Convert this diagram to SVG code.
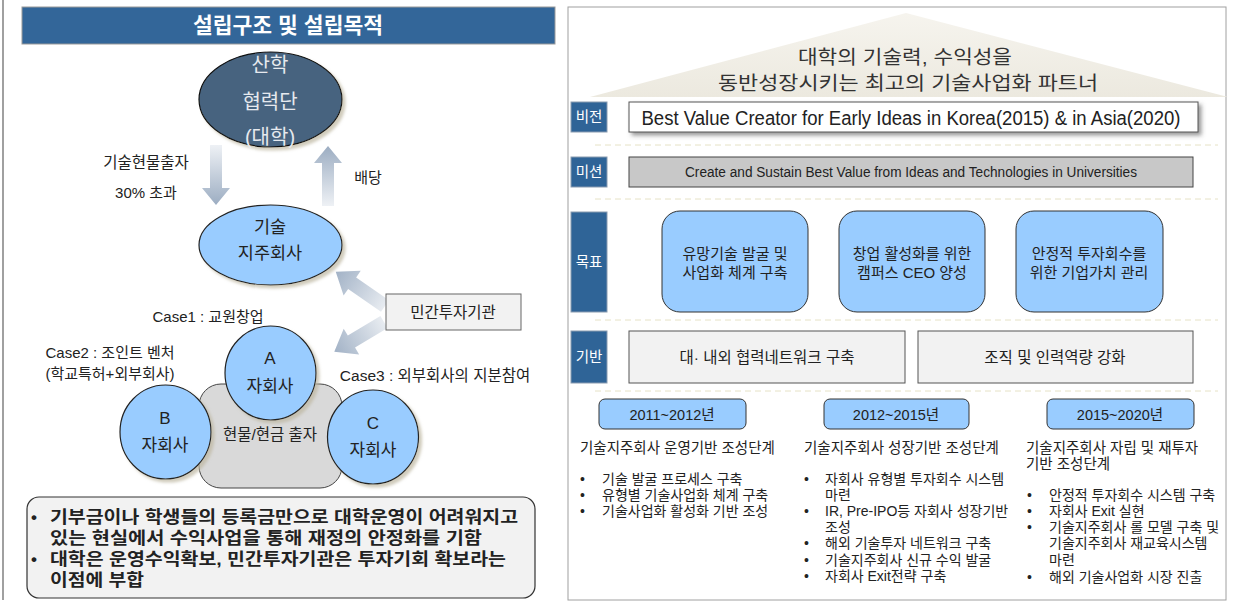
<svg xmlns="http://www.w3.org/2000/svg" width="1239" height="605" viewBox="0 0 1239 605">
<defs>
<style>
.k{font-family:'Liberation Sans','Noto Sans CJK KR',sans-serif;fill:#222}
.lbl{fill:#2F6497;stroke:#8A9BB0;stroke-width:1}
.lbltxt{font-family:'Noto Sans CJK KR',sans-serif;font-size:14.5px;fill:#fff;text-anchor:middle}
.goal{fill:#99CCFF;stroke:#333;stroke-width:1}
.found{fill:#F2F2F2;stroke:#555;stroke-width:1}
.dash{stroke:#E6E2C6;stroke-width:1;stroke-dasharray:6 4}
.c{text-anchor:middle}
.bul{font-size:14px}
.blue{fill:#99CCFF;stroke:#222;stroke-width:1.2}
</style>
<linearGradient id="gDown" x1="0" y1="0" x2="0" y2="1"><stop offset="0" stop-color="#EEF1F5"/><stop offset="1" stop-color="#9CADC2"/></linearGradient>
<linearGradient id="gUp" x1="0" y1="1" x2="0" y2="0"><stop offset="0" stop-color="#EEF1F5"/><stop offset="1" stop-color="#9CADC2"/></linearGradient>
<linearGradient id="gDiag" x1="0" y1="0" x2="1" y2="0"><stop offset="0" stop-color="#E8ECF1"/><stop offset="1" stop-color="#A2B2C6"/></linearGradient>
<linearGradient id="gRoof" x1="0" y1="0" x2="0" y2="1"><stop offset="0" stop-color="#F6F4EE"/><stop offset="1" stop-color="#ECE9DF"/></linearGradient>
<filter id="sh" x="-20%" y="-20%" width="150%" height="150%"><feDropShadow dx="3" dy="3" stdDeviation="1.5" flood-color="#BDB6A0" flood-opacity="0.7"/></filter>
<filter id="sh2" x="-5%" y="-30%" width="110%" height="170%"><feDropShadow dx="3" dy="3" stdDeviation="2" flood-color="#555" flood-opacity="0.6"/></filter>
</defs>
<rect width="1239" height="605" fill="#fff"/>

<!-- LEFT PANEL -->
<line x1="3" y1="0" x2="3" y2="600" stroke="#A0A0A0" stroke-width="2"/>
<g id="title-left">
<rect x="22" y="7" width="533" height="37" fill="#336699" stroke="#999" stroke-width="1"/>
<text x="288" y="33" class="k c" font-size="21.5" font-weight="bold" style="fill:#fff">설립구조 및 설립목적</text>
</g>

<g id="connectors">
<polygon points="210,145 222,145 222,188 230,188 216,205 202,188 210,188" fill="url(#gDown)"/>
<polygon points="328,146 342,163 334,163 334,206 322,206 322,163 314,163" fill="url(#gUp)"/>
<polygon points="0,-7 40,-7 40,-15 60,0 40,15 40,7 0,7" fill="url(#gDiag)" transform="translate(385,306) rotate(214.8)"/>
<polygon points="0,-7 38,-7 38,-15 58,0 38,15 38,7 0,7" fill="url(#gDiag)" transform="translate(384,322) rotate(149)"/>
<text x="146" y="168" class="k c" font-size="15.5">기술현물출자</text>
<text x="146" y="198" class="k c" font-size="15">30% 초과</text>
<text x="368" y="183" class="k c" font-size="15">배당</text>
</g>

<g id="node-sanhak">
<ellipse cx="270.5" cy="99.5" rx="71.5" ry="47.5" fill="#46637F" stroke="#111" stroke-width="1.2" filter="url(#sh)"/>
<text x="270" y="72" class="k c" font-size="20" style="fill:#E6E9EE">산학</text>
<text x="270" y="109" class="k c" font-size="20" style="fill:#E6E9EE">협력단</text>
<text x="270" y="144" class="k c" font-size="20" style="fill:#E6E9EE">(대학)</text>
</g>

<g id="node-holding">
<ellipse cx="270.5" cy="245" rx="71.5" ry="40" class="blue" filter="url(#sh)"/>
<text x="270" y="233" class="k c" font-size="17.5">기술</text>
<text x="270" y="259" class="k c" font-size="17.5">지주회사</text>
</g>

<g id="node-investor">
<rect x="386" y="294" width="135" height="36" fill="#F2F2F2" stroke="#666" stroke-width="1"/>
<text x="453" y="318" class="k c" font-size="15.5">민간투자기관</text>
</g>

<g id="case-labels">
<text x="208" y="322" class="k c" font-size="15">Case1 : 교원창업</text>
<text x="110" y="358" class="k c" font-size="15">Case2 : 조인트 벤처</text>
<text x="110" y="379" class="k c" font-size="15">(학교특허+외부회사)</text>
<text x="435" y="381" class="k c" font-size="15.5">Case3 : 외부회사의 지분참여</text>
</g>

<g id="node-invest-pool">
<rect x="199" y="384" width="143" height="104" rx="22" fill="#D9D9D9" stroke="#444" stroke-width="1"/>
<text x="270" y="440" class="k c" font-size="15.5">현물/현금 출자</text>
</g>

<g id="node-A">
<ellipse cx="270.5" cy="373" rx="45.5" ry="47" class="blue" filter="url(#sh)"/>
<text x="270" y="364" class="k c" font-size="17">A</text>
<text x="270" y="392" class="k c" font-size="17">자회사</text>
</g>
<g id="node-B">
<ellipse cx="165.5" cy="432" rx="45.5" ry="47" class="blue" filter="url(#sh)"/>
<text x="165" y="424" class="k c" font-size="17">B</text>
<text x="165" y="451" class="k c" font-size="17">자회사</text>
</g>
<g id="node-C">
<ellipse cx="373" cy="437" rx="45.5" ry="47" class="blue" filter="url(#sh)"/>
<text x="373" y="429" class="k c" font-size="17">C</text>
<text x="373" y="456" class="k c" font-size="17">자회사</text>
</g>

<g id="note-box">
<rect x="27" y="497" width="508" height="101" rx="12" fill="#F2F2F2" stroke="#333" stroke-width="1.2"/>
<g class="k" font-size="17" font-weight="bold">
<text x="31" y="523">•</text>
<text x="50" y="523" textLength="468" lengthAdjust="spacingAndGlyphs">기부금이나 학생들의 등록금만으로 대학운영이 어려워지고</text>
<text x="50" y="544" textLength="432" lengthAdjust="spacingAndGlyphs">있는 현실에서 수익사업을 통해 재정의 안정화를 기함</text>
<text x="31" y="565">•</text>
<text x="50" y="565" textLength="456" lengthAdjust="spacingAndGlyphs">대학은 운영수익확보, 민간투자기관은 투자기회 확보라는</text>
<text x="50" y="586" textLength="94" lengthAdjust="spacingAndGlyphs">이점에 부합</text>
</g>
</g>

<!-- RIGHT PANEL -->
<g id="right-panel">
<rect x="568" y="7" width="658" height="593" fill="#fff" stroke="#A0A0A0" stroke-width="1"/>
<polygon points="906,13 1228,97 590,97" fill="url(#gRoof)"/>
<text x="905" y="64" class="k c" font-size="19" textLength="214" lengthAdjust="spacingAndGlyphs" style="fill:#333">대학의 기술력, 수익성을</text>
<text x="908" y="90" class="k c" font-size="19" textLength="380" lengthAdjust="spacingAndGlyphs" style="fill:#333">동반성장시키는 최고의 기술사업화 파트너</text>
<line x1="595" y1="145" x2="1218" y2="145" class="dash"/>
<line x1="595" y1="199" x2="1218" y2="199" class="dash"/>
<line x1="595" y1="320" x2="1218" y2="320" class="dash"/>
<line x1="595" y1="391" x2="1218" y2="391" class="dash"/>
</g>

<g id="row-vision">
<rect x="571" y="102" width="36" height="30" class="lbl"/>
<text x="589" y="122" class="lbltxt">비전</text>
<rect x="629" y="102" width="569" height="30" fill="#fff" stroke="#555" stroke-width="1" filter="url(#sh2)"/>
<text x="911" y="125" class="k c" font-size="20" textLength="539" lengthAdjust="spacingAndGlyphs">Best Value Creator for Early Ideas in Korea(2015) &amp; in Asia(2020)</text>
</g>

<g id="row-mission">
<rect x="571" y="157" width="36" height="30" class="lbl"/>
<text x="589" y="177" class="lbltxt">미션</text>
<rect x="629" y="157" width="564" height="30" fill="#C8C8C8" stroke="#444" stroke-width="1"/>
<text x="911" y="177" class="k c" font-size="14" textLength="452" lengthAdjust="spacingAndGlyphs">Create and Sustain Best Value from Ideas and Technologies in Universities</text>
</g>

<g id="row-goal">
<rect x="571" y="212" width="36" height="100" class="lbl"/>
<text x="589" y="267" class="lbltxt">목표</text>
</g>
<g id="goal-1">
<rect x="662" y="211" width="146" height="101" rx="18" class="goal"/>
<text x="735" y="259" class="k c" font-size="15">유망기술 발굴 및</text>
<text x="735" y="278" class="k c" font-size="15">사업화 체계 구축</text>
</g>
<g id="goal-2">
<rect x="839" y="211" width="146" height="101" rx="18" class="goal"/>
<text x="912" y="259" class="k c" font-size="15">창업 활성화를 위한</text>
<text x="912" y="278" class="k c" font-size="15">캠퍼스 CEO 양성</text>
</g>
<g id="goal-3">
<rect x="1016" y="211" width="147" height="101" rx="18" class="goal"/>
<text x="1089" y="259" class="k c" font-size="15">안정적 투자회수를</text>
<text x="1089" y="278" class="k c" font-size="15">위한 기업가치 관리</text>
</g>

<g id="row-base">
<rect x="571" y="331" width="36" height="52" class="lbl"/>
<text x="589" y="362" class="lbltxt">기반</text>
</g>
<g id="base-1">
<rect x="629" y="331" width="276" height="52" class="found"/>
<text x="767" y="363" class="k c" font-size="15.5">대· 내외 협력네트워크 구축</text>
</g>
<g id="base-2">
<rect x="918" y="331" width="275" height="52" class="found"/>
<text x="1055" y="363" class="k c" font-size="15.5">조직 및 인력역량 강화</text>
</g>

<g id="phase-1">
<rect x="599" y="399" width="147" height="30" rx="6" fill="#99CCFF" stroke="#333" stroke-width="1"/>
<text x="672" y="420" class="k c" font-size="14.5">2011~2012년</text>
<text x="580" y="453" class="k" font-size="14.5">기술지주회사 운영기반 조성단계</text>
<g class="k bul">
<text x="580" y="484">•</text><text x="602" y="484">기술 발굴 프로세스 구축</text>
<text x="580" y="500">•</text><text x="602" y="500">유형별 기술사업화 체계 구축</text>
<text x="580" y="516">•</text><text x="602" y="516">기술사업화 활성화 기반 조성</text>
</g>
</g>

<g id="phase-2">
<rect x="824" y="399" width="145" height="30" rx="6" fill="#99CCFF" stroke="#333" stroke-width="1"/>
<text x="896" y="420" class="k c" font-size="14.5">2012~2015년</text>
<text x="804" y="453" class="k" font-size="14.5">기술지주회사 성장기반 조성단계</text>
<g class="k bul">
<text x="804" y="484">•</text><text x="825" y="484">자회사 유형별 투자회수 시스템</text>
<text x="825" y="500">마련</text>
<text x="804" y="516">•</text><text x="825" y="516">IR, Pre-IPO등 자회사 성장기반</text>
<text x="825" y="532">조성</text>
<text x="804" y="548">•</text><text x="825" y="548">해외 기술투자 네트워크 구축</text>
<text x="804" y="565">•</text><text x="825" y="565">기술지주회사 신규 수익 발굴</text>
<text x="804" y="581">•</text><text x="825" y="581">자회사 Exit전략 구축</text>
</g>
</g>

<g id="phase-3">
<rect x="1047" y="399" width="147" height="30" rx="6" fill="#99CCFF" stroke="#333" stroke-width="1"/>
<text x="1120" y="420" class="k c" font-size="14.5">2015~2020년</text>
<text x="1026" y="453" class="k" font-size="14.5">기술지주회사 자립 및 재투자</text>
<text x="1026" y="469" class="k" font-size="14.5">기반 조성단계</text>
<g class="k bul">
<text x="1027" y="500">•</text><text x="1049" y="500">안정적 투자회수 시스템 구축</text>
<text x="1027" y="516">•</text><text x="1049" y="516">자회사 Exit 실현</text>
<text x="1027" y="532">•</text><text x="1049" y="532">기술지주회사 롤 모델 구축 및</text>
<text x="1049" y="548">기술지주회사 재교육시스템</text>
<text x="1049" y="565">마련</text>
<text x="1027" y="582">•</text><text x="1049" y="582">해외 기술사업화 시장 진출</text>
</g>
</g>
</svg>
